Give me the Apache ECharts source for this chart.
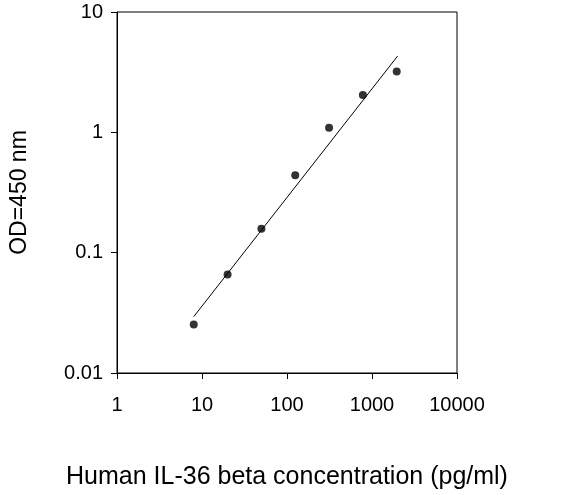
<!DOCTYPE html>
<html><head><meta charset="utf-8">
<script src="https://cdn.jsdelivr.net/npm/echarts@6/dist/echarts.min.js"></script>
<style>html,body{margin:0;padding:0;background:#fff}#c{width:573px;height:495px}</style>
</head><body><div id="c"></div>
<script>
const concentrations = [8, 20, 50, 125, 312.5, 781, 1953];
const odValues = [0.0253, 0.066, 0.158, 0.44, 1.09, 2.04, 3.2];
const fitX = [8, 2000];
const fitY = [0.0294, 4.3];
const xTicks = ['1','10','100','1000','10000'];
const yTicks = ['0.01','0.1','1','10'];
const ch = echarts.init(document.getElementById('c'));
const font = {fontFamily:'Arial, Liberation Sans', fontSize:20, color:'#000'};
ch.setOption({
  animation:false,
  grid:{left:114,right:116,top:12,bottom:118,show:true,borderColor:'#000',borderWidth:1},
  xAxis:{type:'log',logBase:10,min:1,max:10000,
    name:'Human IL-36 beta concentration (pg/ml)',nameLocation:'middle',nameGap:92,
    nameTextStyle:{...font,fontSize:25},
    axisLine:{lineStyle:{color:'#000'}},axisTick:{inside:false,length:6,lineStyle:{color:'#000'}},
    minorTick:{show:false},splitLine:{show:false},
    axisLabel:{...font,margin:22,formatter:v=>xTicks.find(t=>Number(t)===Math.round(v))||''}},
  yAxis:{type:'log',logBase:10,min:0.01,max:10,
    name:'OD=450 nm',nameLocation:'middle',nameGap:86,nameTextStyle:{...font,fontSize:23},
    axisLine:{lineStyle:{color:'#000'}},axisTick:{length:6,lineStyle:{color:'#000'}},
    splitLine:{show:false},
    axisLabel:{...font,margin:14,formatter:v=>yTicks.find(t=>Math.abs(Number(t)-v)/v<1e-6)||''}},
  series:[
    {type:'line',data:fitX.map((x,i)=>[x,fitY[i]]),symbol:'none',lineStyle:{color:'#000',width:1},silent:true},
    {type:'scatter',data:concentrations.map((x,i)=>[x,odValues[i]]),symbolSize:8,itemStyle:{color:'#000'}}
  ]
});
</script></body></html>
